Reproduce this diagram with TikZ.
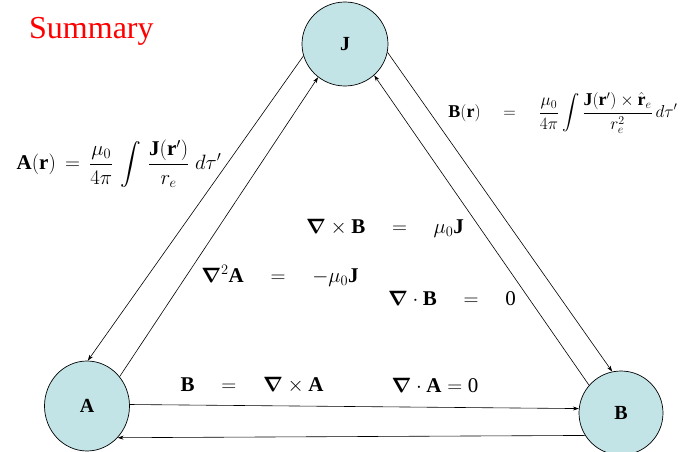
\documentclass[tikz,border=0pt]{standalone}
\usepackage{amsmath}
\usepackage{bm}
\usepackage{fontspec}
\setmainfont{Liberation Serif}
\usetikzlibrary{shapes.geometric,arrows.meta}
\definecolor{nodefill}{RGB}{194,228,230}
\newcommand{\bvec}[1]{\text{\bfseries #1}}
\tikzset{
  blob/.style={ellipse,draw=black,line width=0.7pt,fill=nodefill,inner sep=0pt,font=\fontsize{20}{22}\selectfont\bfseries},
  conn/.style={line width=0.6pt,-{Stealth[length=6pt,width=4pt]}},
  eqbig/.style={inner sep=0pt,font=\fontsize{21}{24}\selectfont},
  eqside/.style={inner sep=0pt,font=\fontsize{18}{21}\selectfont},
}
\begin{document}
\begin{tikzpicture}[x=1pt,y=-1pt]
\useasboundingbox (0,0) rectangle (697,452);
\node[blob,minimum width=86pt,minimum height=84pt] (J) at (345,44) {J};
\node[blob,minimum width=85pt,minimum height=90pt] (A) at (87,406) {A};
\node[blob,minimum width=84pt,minimum height=84pt] (B) at (621,413) {B};

\draw[conn] (J.196) -- (A.89);
\draw[conn] (A.42) -- (J.231);
\draw[conn] (J.349) -- (B.102);
\draw[conn] (B.139) -- (J.313);
\draw[conn] (A.2) -- (B.174);
\draw[conn] (B.212) -- (A.314);

\node[anchor=west,inner sep=0pt,text=red,font=\fontsize{32}{34}\selectfont] (title) at (29,31) {Summary};

\node[eqside,font=\fontsize{21}{24}\selectfont] (eqA) at (119,164) {$\bvec{A}(\bvec{r})\,=\,\dfrac{\mu_0}{4\pi}\,\displaystyle\int\,\dfrac{\bvec{J}(\bvec{r}')}{r_e}\;d\tau'$};
\node[eqside] (eqB) at (563,113) {$\bvec{B}(\bvec{r})\quad=\quad\dfrac{\mu_0}{4\pi}\displaystyle\int\dfrac{\bvec{J}(\bvec{r}')\times\hat{\bvec{r}}_e}{r_e^2}\,d\tau'$};

\node[eqbig] (curlB) at (385,228) {$\bm{\nabla}\times\bvec{B}\quad=\quad\mu_0\bvec{J}$};
\node[eqbig] (lapA) at (280,276) {$\bm{\nabla}^2\bvec{A}\quad=\quad-\mu_0\bvec{J}$};
\node[eqbig] (divB) at (452,298) {$\bm{\nabla}\cdot\bvec{B}\quad=\quad\text{0}$};
\node[eqbig] (curlA) at (252,385) {$\bvec{B}\quad=\quad\bm{\nabla}\times\bvec{A}$};
\node[eqbig] (divA) at (435,385) {$\bm{\nabla}\cdot\bvec{A}=\text{0}$};
\end{tikzpicture}
\end{document}
